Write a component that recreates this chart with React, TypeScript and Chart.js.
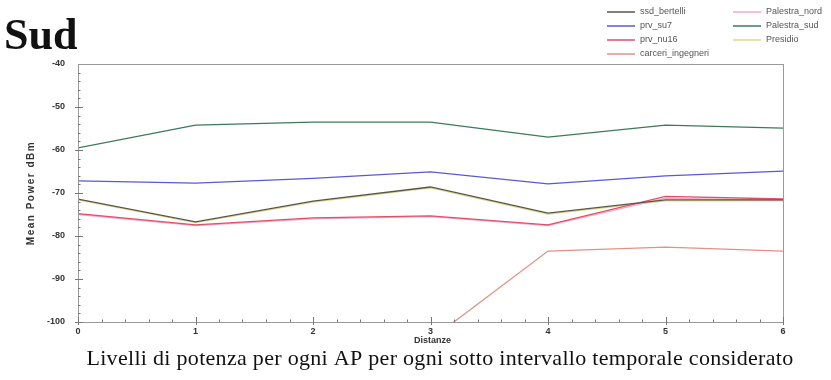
import React, { useEffect, useRef } from "react";
import { Chart, registerables } from "chart.js";

Chart.register(...registerables);

// ---- data ----
const xValues = [0, 1, 2, 3, 4, 5, 6];
const yTicks = [-100, -90, -80, -70, -60, -50, -40];

const seriesNames = [
  "ssd_bertelli",
  "prv_su7",
  "prv_nu16",
  "carceri_ingegneri",
  "Palestra_nord",
  "Palestra_sud",
  "Presidio",
];
const ssdBertelli = [-71.4, -76.7, -71.9, -68.6, -74.7, -71.6, -71.6];
const prvSu7 = [-67.2, -67.7, -66.6, -65.1, -67.9, -66.0, -64.9];
const prvNu16 = [-74.8, -77.4, -75.8, -75.3, -77.4, -70.8, -71.4];
const carceriIngegneri = [-104, -104, -104, -104.1, -83.5, -82.6, -83.5];
const palestraNord = [-75.0, -77.6, -76.0, -75.5, -77.6, -71.2, -71.7];
const palestraSud = [-59.5, -54.2, -53.5, -53.5, -57.0, -54.2, -54.9];
const presidio = [-71.6, -76.9, -72.1, -68.8, -74.9, -71.8, -71.8];

const seriesValues = [ssdBertelli, prvSu7, prvNu16, carceriIngegneri, palestraNord, palestraSud, presidio];
const seriesColors = ["#5a5646", "#5a5ad0", "#e05068", "#e49088", "#f2a8cc", "#3d7a5c", "#d8d890"];

const titleText = "Sud";
const xTitle = "Distanze";
const yTitle = "Mean Power dBm";
const captionText = "Livelli di potenza per ogni AP per ogni sotto intervallo temporale considerato";

const decorPlugin = {
  id: "decor",
  afterDatasetsDraw(chart: any) {
    const { ctx, chartArea, scales } = chart;
    const { left, right, top, bottom } = chartArea;
    ctx.save();
    ctx.strokeStyle = "#9a9a9a";
    ctx.lineWidth = 1;
    ctx.strokeRect(left + 0.5, top + 0.5, right - left, bottom - top);
    ctx.strokeStyle = "#777";
    const xs = scales.x;
    const ys = scales.y;
    for (let v = 0; v <= 6.0001; v += 0.2) {
      const px = Math.round(xs.getPixelForValue(v)) + 0.5;
      const major = Math.abs(v - Math.round(v)) < 1e-6;
      const len = major ? 5 : 2.5;
      ctx.beginPath();
      ctx.moveTo(px, bottom);
      ctx.lineTo(px, bottom - len);
      if (major) {
        ctx.moveTo(px, bottom);
        ctx.lineTo(px, bottom + 3);
      }
      ctx.stroke();
    }
    for (let v = -100; v <= -40.0001; v += 2) {
      const py = Math.round(ys.getPixelForValue(v)) + 0.5;
      const major = v % 10 === 0;
      const len = major ? 5 : 2.5;
      ctx.beginPath();
      ctx.moveTo(left, py);
      ctx.lineTo(left + len, py);
      if (major) {
        ctx.moveTo(left, py);
        ctx.lineTo(left - 3, py);
      }
      ctx.stroke();
    }
    ctx.restore();
  },
  afterDraw(chart: any) {
    const { ctx, chartArea, data } = chart;
    ctx.save();
    ctx.fillStyle = "#111";
    ctx.font = 'bold 44px "Liberation Serif"';
    ctx.textAlign = "left";
    ctx.textBaseline = "alphabetic";
    ctx.fillText(titleText, 4, 49);

    ctx.font = '9px "Liberation Sans"';
    ctx.textBaseline = "middle";
    data.datasets.forEach((ds: any, i: number) => {
      const col = i < 4 ? 0 : 1;
      const row = i < 4 ? i : i - 4;
      const lx = col === 0 ? 607 : 733;
      const y = 12 + row * 14;
      ctx.strokeStyle = ds.borderColor;
      ctx.lineWidth = 1.5;
      ctx.beginPath();
      ctx.moveTo(lx, y);
      ctx.lineTo(lx + 28, y);
      ctx.stroke();
      ctx.fillStyle = "#555";
      ctx.fillText(ds.label, lx + 33, y);
    });

    ctx.fillStyle = "#333";
    ctx.font = 'bold 9px "Liberation Sans"';
    ctx.textAlign = "center";
    ctx.fillText(xTitle, (chartArea.left + chartArea.right) / 2 + 2, 341);
    ctx.save();
    ctx.translate(31, (chartArea.top + chartArea.bottom) / 2);
    ctx.rotate(-Math.PI / 2);
    ctx.font = 'bold 10px "Liberation Sans"';
    (ctx as any).letterSpacing = "1.5px";
    ctx.fillText(yTitle, 0, 0);
    ctx.restore();

    ctx.fillStyle = "#111";
    ctx.font = '22px "Liberation Serif"';
    (ctx as any).letterSpacing = "0.3px";
    ctx.textBaseline = "alphabetic";
    ctx.fillText(captionText, 440, 365);
    ctx.restore();
  },
};

export default function App() {
  const ref = useRef<HTMLCanvasElement | null>(null);
  useEffect(() => {
    if (!ref.current) return;
    const chart = new Chart(ref.current, {
      type: "line",
      data: {
        datasets: seriesNames.map((name, i) => ({
          label: name,
          data: seriesValues[i].map((v, j) => ({ x: xValues[j], y: v })),
          borderColor: seriesColors[i],
          backgroundColor: seriesColors[i],
          borderWidth: 1.3,
          pointRadius: 0,
          tension: 0,
          fill: false,
        })),
      },
      options: {
        responsive: false,
        animation: false,
        devicePixelRatio: 1,
        layout: { padding: { top: 64, right: 48, bottom: 28, left: 0 } },
        plugins: {
          legend: { display: false },
          title: { display: false },
          tooltip: { enabled: false },
        },
        scales: {
          x: {
            type: "linear",
            min: 0,
            max: 6,
            grid: { display: false },
            border: { display: false },
            ticks: {
              stepSize: 1,
              color: "#333",
              font: { size: 9, family: "Liberation Sans", weight: "bold" },
              padding: -4,
              maxRotation: 0,
            },
            afterFit: (s: any) => {
              s.height = 30;
            },
          },
          y: {
            min: -100,
            max: -40,
            grid: { display: false },
            border: { display: false },
            afterBuildTicks: (s: any) => {
              s.ticks = yTicks.map((v) => ({ value: v }));
            },
            ticks: {
              color: "#333",
              font: { size: 9, family: "Liberation Sans", weight: "bold" },
              padding: 5,
            },
            afterFit: (s: any) => {
              s.width = 78;
            },
          },
        },
      },
      plugins: [decorPlugin],
    });
    return () => chart.destroy();
  }, []);
  return (
    <div style={{ position: "fixed", left: 0, top: 0, width: 831, height: 380, background: "#fff" }}>
      <canvas ref={ref} width={831} height={380} />
    </div>
  );
}
